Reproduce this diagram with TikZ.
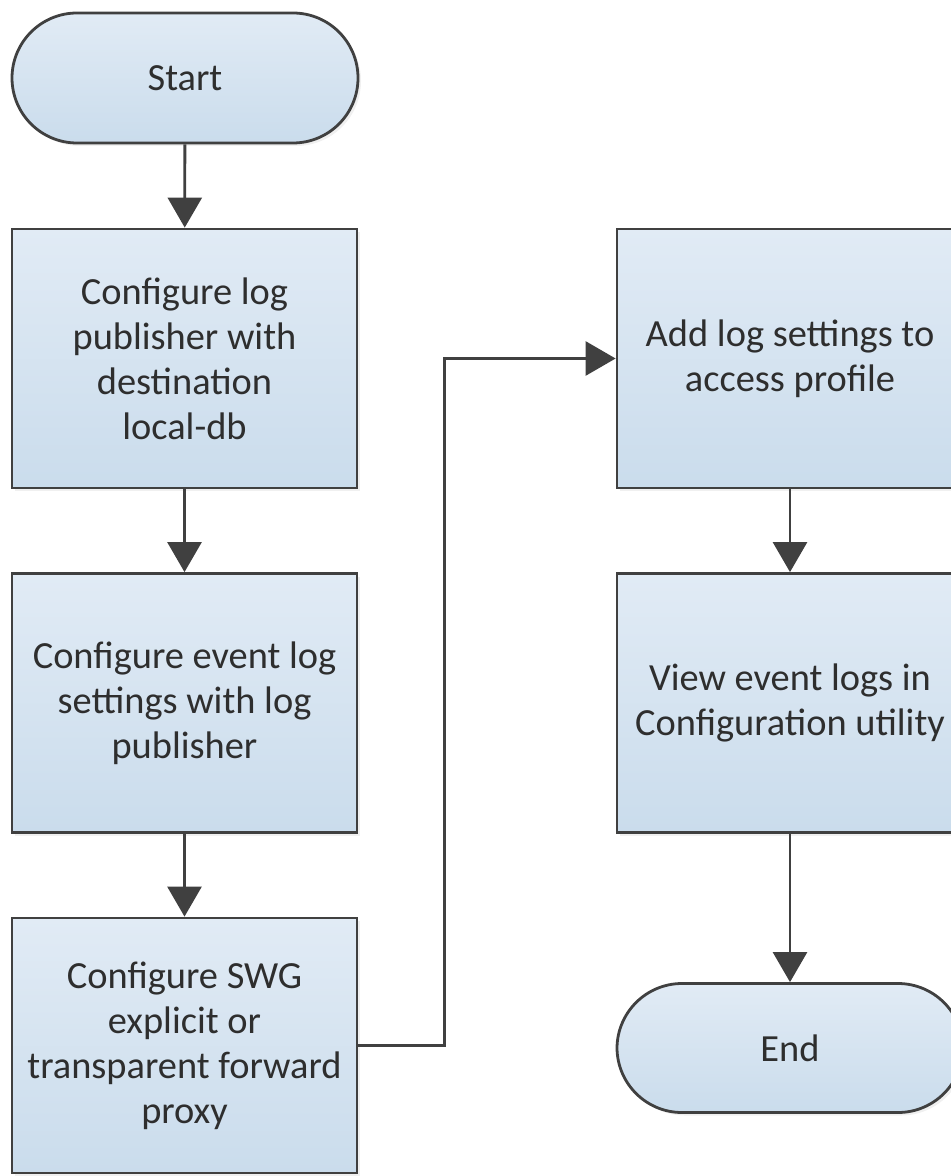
\documentclass[tikz,border=0pt]{standalone}
\usepackage{fontspec}
\setmainfont{Carlito}
\usetikzlibrary{arrows.meta,shadows}
\definecolor{edgec}{HTML}{404040}
\definecolor{topc}{HTML}{E1EBF5}
\definecolor{botc}{HTML}{CADCEC}
\definecolor{txtc}{HTML}{2E2E2E}
\tikzset{
  box/.style={draw=edgec, line width=1.4pt, top color=topc, bottom color=botc,
    minimum width=172.5pt, minimum height=129.5pt, inner sep=0pt, align=center,
    font=\fontsize{19.2}{22.5}\selectfont, text=txtc,
    drop shadow={shadow xshift=1.5pt, shadow yshift=-1.5pt, opacity=0.12}},
  term/.style={box, minimum height=65pt, rounded corners=32.5pt},
  conn/.style={draw=edgec, line width=1.4pt, -{Triangle[width=17pt,length=15pt]}}
}
\begin{document}
\begin{tikzpicture}[x=0.5pt,y=-0.5pt]
\useasboundingbox (0,0) rectangle (951,1176);
\node[term, minimum width=173pt] (start) at (185,78) {Start};
\node[box] (b1) at (184.5,358.5) {Configure log\\publisher with\\destination\\local-db};
\node[box] (b2) at (184.5,703) {Configure event log\\settings with log\\publisher};
\node[box, minimum height=127.5pt] (b3) at (184.5,1045.5) {Configure SWG\\explicit or\\transparent forward\\proxy};
\node[box, minimum width=173pt] (b4) at (790,358.5) {Add log settings to\\access profile};
\node[box, minimum width=173pt] (b5) at (790,703) {View event logs in\\Configuration utility};
\node[term, minimum width=173pt, minimum height=64.5pt] (end) at (790,1048) {End};
\draw[conn] (start) -- (b1);
\draw[conn] (b1) -- (b2);
\draw[conn] (b2) -- (b3);
\draw[conn] (b3.east) -- ++(86,0) |- (b4.west);
\draw[conn] (b4) -- (b5);
\draw[conn] (b5) -- (end);
\end{tikzpicture}
\end{document}
